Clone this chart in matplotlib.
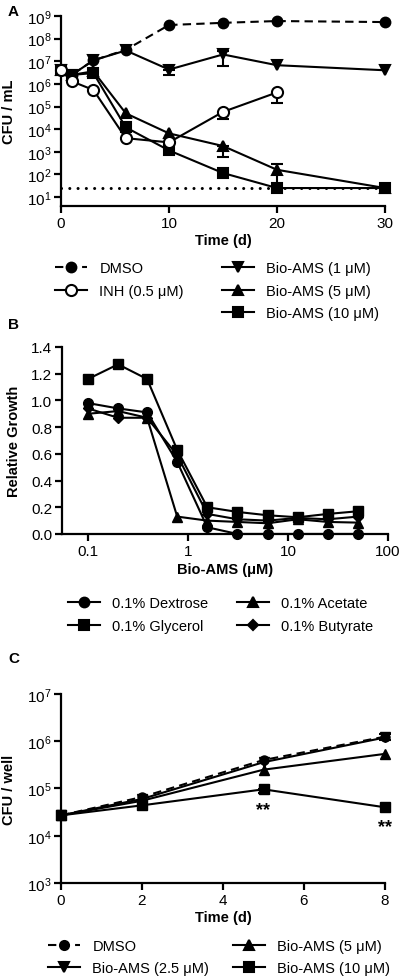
import numpy as np
import matplotlib
matplotlib.use('Agg')
from matplotlib import pyplot as plt
from matplotlib.lines import Line2D
from matplotlib.ticker import FixedLocator, NullLocator, LogFormatterMathtext, FixedFormatter

# ---- panel A: kill curves ----
days_a = [0, 1, 3, 6, 10, 15, 20, 30]
dmso_a = [4e6, 2.5e6, 1.1e7, 3.2e7, 4e8, 5e8, 6e8, 5.4e8]
bio1_a = [4e6, 2.5e6, 1.1e7, 3e7, 4.3e6, 2e7, 6.7e6, 4e6]
bio5_a = [4e6, 2.5e6, 3.6e6, 5e4, 6.5e3, 1.8e3, 1.6e2, 25]
bio10_a = [4e6, 2.5e6, 3e6, 1.2e4, 1.15e3, 1.15e2, 25, 25]
days_inh = [0, 1, 3, 6, 10, 15, 20]
inh_a = [4e6, 1.3e6, 5.4e5, 4e3, 2.6e3, 5.8e4, 4.2e5]
lod_a = 25

# error bars (x, low end, high end)
bio1_err = ([10, 15], [2.6e6, 6.5e6], [4.3e6, 2.8e7])
inh_err = ([15, 20], [2.7e4, 1.4e5], [5.8e4, 4.2e5])
bio5_err = ([15, 20], [6e2, 25], [1.8e3, 3e2])

# ---- panel B: carbon sources ----
conc_b = [0.1, 0.2, 0.39, 0.78, 1.56, 3.125, 6.25, 12.5, 25, 50]
dextrose = [0.98, 0.94, 0.91, 0.54, 0.05, 0.0, 0.0, 0.0, 0.0, 0.0]
glycerol = [1.16, 1.27, 1.16, 0.63, 0.20, 0.165, 0.14, 0.125, 0.15, 0.17]
acetate = [0.90, 0.92, 0.87, 0.13, 0.10, 0.09, 0.08, 0.11, 0.09, 0.085]
butyrate = [0.94, 0.87, 0.87, 0.59, 0.15, 0.11, 0.10, 0.12, 0.11, 0.13]

# ---- panel C: CFU per well ----
days_c = [0, 2, 5, 8]
dmso_c = [2.7e4, 6.6e4, 4e5, 1.25e6]
bio25_c = [2.7e4, 6e4, 3.6e5, 1.2e6]
bio5_c = [2.7e4, 5.5e4, 2.5e5, 5.4e5]
bio10_c = [2.7e4, 4.4e4, 9.6e4, 4e4]
dmso_c_err = ([8], [1.05e6], [1.45e6])
bio10_c_err = ([5], [8e4], [9.6e4])
stars_x = [5, 8]
stars_y = [3.5e4, 1.6e4]

plt.rcParams['font.family'] = ['Liberation Sans', 'DejaVu Sans']
plt.rcParams['mathtext.fontset'] = 'custom'
plt.rcParams['mathtext.rm'] = 'Liberation Sans'
plt.rcParams['mathtext.default'] = 'regular'

LW = 1.5
FS = 10.5    # labels / legend
TFS = 11     # tick labels


def style_axes(ax):
    for s in ['top', 'right']:
        ax.spines[s].set_visible(False)
    for s in ['left', 'bottom']:
        ax.spines[s].set_linewidth(1.6)
    ax.tick_params(which='major', direction='out', length=5, width=1.6, labelsize=TFS, pad=2)
    ax.tick_params(which='minor', length=0)


def errs(ax, e, y_of):
    xs, lo, hi = e
    ys = [y_of[x] for x in xs]
    ax.errorbar(xs, ys, yerr=[np.array(ys) - np.array(lo), np.array(hi) - np.array(ys)],
                fmt='none', ecolor='k', elinewidth=LW, capsize=4, capthick=LW, zorder=2, clip_on=False)


def legend_col(fig, handles, labels, x, y, hl=2.2, pad=0.85, sp=0.6):
    fig.legend(handles, labels, loc='upper left', bbox_to_anchor=(x, y), frameon=False,
               fontsize=FS, handlelength=hl, handletextpad=pad, labelspacing=sp,
               borderpad=0, borderaxespad=0, numpoints=1)


def h(marker, dashed=False, mfc='k', ms=7):
    ls = (0, (4, 2.5)) if dashed else '-'
    return Line2D([], [], color='k', lw=LW, ls=ls, marker=marker, ms=ms, mfc=mfc, mec='k', mew=1.5)


fig = plt.figure(figsize=(4, 9.78), dpi=100)

# ================= A =================
axA = fig.add_axes([0.1525, 0.7883, 0.81, 0.1943])
style_axes(axA)
axA.set_yscale('log')
axA.plot([0, 30], [lod_a, lod_a], color='k', lw=2.2, ls=(0, (0.01, 2.7)), dash_capstyle='round', zorder=1)
errs(axA, bio1_err, dict(zip(days_a, bio1_a)))
errs(axA, inh_err, dict(zip(days_inh, inh_a)))
errs(axA, bio5_err, dict(zip(days_a, bio5_a)))
kw = dict(color='k', lw=LW, ms=7, mec='k', mew=1.5, clip_on=False, zorder=3)
axA.plot(days_a, dmso_a, marker='o', ls=(0, (4, 2.5)), **kw)
axA.plot(days_a, bio1_a, marker='v', **kw)
axA.plot(days_a, bio5_a, marker='^', **kw)
axA.plot(days_a, bio10_a, marker='s', **kw)
axA.plot(days_inh, inh_a, marker='o', mfc='white', **{**kw, 'ms': 8, 'zorder': 4})
axA.set_xlim(0, 30)
axA.set_ylim(4, 1e9)
axA.xaxis.set_major_locator(FixedLocator([0, 10, 20, 30]))
axA.yaxis.set_major_locator(FixedLocator([10.0 ** k for k in range(1, 10)]))
axA.yaxis.set_major_formatter(LogFormatterMathtext())
axA.yaxis.set_minor_locator(NullLocator())
axA.set_xlabel('Time (d)', fontsize=FS, fontweight='bold')
axA.set_ylabel('CFU / mL', fontsize=FS, fontweight='bold')
axA.xaxis.set_label_coords(0.5, -0.14)
axA.yaxis.set_label_coords(-0.14, 0.5)
fig.text(0.02, 0.995, 'A', fontsize=11, fontweight='bold', va='top')

legend_col(fig, [h('o', True), h('o', mfc='white', ms=8)],
           ['DMSO', 'INH (0.5 μM)'], 55 / 400, 1 - 262 / 978)
legend_col(fig, [h('v'), h('^'), h('s')],
           ['Bio-AMS (1 μM)', 'Bio-AMS (5 μM)', 'Bio-AMS (10 μM)'], 222 / 400, 1 - 262 / 978)

# ================= B =================
axB = fig.add_axes([0.155, 0.453, 0.815, 0.1912])
style_axes(axB)
axB.set_xscale('log')
kwb = dict(color='k', lw=LW, ms=7, mec='k', clip_on=False, zorder=3)
axB.plot(conc_b, dextrose, marker='o', **kwb)
axB.plot(conc_b, glycerol, marker='s', **kwb)
axB.plot(conc_b, acetate, marker='^', **kwb)
axB.plot(conc_b, butyrate, marker='D', **{**kwb, 'ms': 5.5})
axB.set_xlim(0.055, 100)
axB.set_ylim(0, 1.4)
axB.xaxis.set_major_locator(FixedLocator([0.1, 1, 10, 100]))
axB.xaxis.set_major_formatter(FixedFormatter(['0.1', '1', '10', '100']))
axB.xaxis.set_minor_locator(NullLocator())
axB.yaxis.set_major_locator(FixedLocator([0.0, 0.2, 0.4, 0.6, 0.8, 1.0, 1.2, 1.4]))
axB.yaxis.set_major_formatter(FixedFormatter(['0.0', '0.2', '0.4', '0.6', '0.8', '1.0', '1.2', '1.4']))
axB.set_xlabel('Bio-AMS (μM)', fontsize=FS, fontweight='bold')
axB.set_ylabel('Relative Growth', fontsize=FS, fontweight='bold')
axB.xaxis.set_label_coords(0.5, -0.15)
axB.yaxis.set_label_coords(-0.125, 0.5)
fig.text(0.02, 1 - 318 / 978, 'B', fontsize=11, fontweight='bold', va='top')

legend_col(fig, [h('o'), h('s')], ['0.1% Dextrose', '0.1% Glycerol'], 68 / 400, 1 - 597 / 978, sp=0.62)
legend_col(fig, [h('^'), h('D', ms=5.5)], ['0.1% Acetate', '0.1% Butyrate'], 237 / 400, 1 - 597 / 978, sp=0.62)

# ================= C =================
axC = fig.add_axes([0.1525, 0.0961, 0.81, 0.1933])
style_axes(axC)
axC.set_yscale('log')
errs(axC, dmso_c_err, dict(zip(days_c, dmso_c)))
errs(axC, bio10_c_err, dict(zip(days_c, bio10_c)))
kwc = dict(color='k', lw=LW, ms=6.5, mec='k', clip_on=False, zorder=3)
axC.plot(days_c, bio25_c, marker='v', **kwc)
axC.plot(days_c, bio5_c, marker='^', **kwc)
axC.plot(days_c, bio10_c, marker='s', **kwc)
axC.plot(days_c, dmso_c, marker='o', ls=(0, (4, 2.5)), **kwc)
for sx, sy in zip(stars_x, stars_y):
    axC.text(sx, sy, '**', ha='center', va='center', fontsize=13, fontweight='bold')
axC.set_xlim(0, 8)
axC.set_ylim(1e3, 1e7)
axC.xaxis.set_major_locator(FixedLocator([0, 2, 4, 6, 8]))
axC.yaxis.set_major_locator(FixedLocator([1e3, 1e4, 1e5, 1e6, 1e7]))
axC.yaxis.set_major_formatter(LogFormatterMathtext())
axC.yaxis.set_minor_locator(NullLocator())
axC.set_xlabel('Time (d)', fontsize=FS, fontweight='bold')
axC.set_ylabel('CFU / well', fontsize=FS, fontweight='bold')
axC.xaxis.set_label_coords(0.5, -0.145)
axC.yaxis.set_label_coords(-0.14, 0.5)
fig.text(0.02, 1 - 652 / 978, 'C', fontsize=11, fontweight='bold', va='top')

legend_col(fig, [h('o', True, ms=6.5), h('v', ms=6.5)], ['DMSO', 'Bio-AMS (2.5 μM)'], 48 / 400, 1 - 940 / 978, sp=0.55)
legend_col(fig, [h('^', ms=6.5), h('s', ms=6.5)], ['Bio-AMS (5 μM)', 'Bio-AMS (10 μM)'], 233 / 400, 1 - 940 / 978, sp=0.55)

fig.savefig('out.png', dpi=100)
